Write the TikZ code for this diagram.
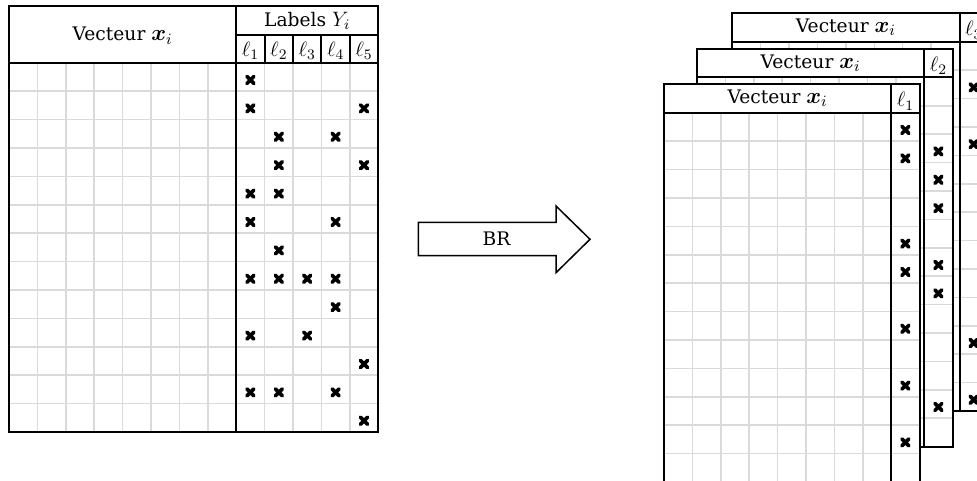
\RequirePackage{fix-cm}
\documentclass[tikz,border=0pt]{standalone}
\usepackage{amsmath}
\usepackage{fontspec}
\setmainfont{DejaVu Serif}
\newcommand\vecx{{\fontsize{13.5}{15}\selectfont$\boldsymbol{x}_i$}}
\newcommand\labset{{\fontsize{12.5}{14}\selectfont$Y_i$}}
\definecolor{gridgray}{RGB}{218,218,218}
\tikzset{
  gridline/.style={gridgray, line width=0.9pt},
  frame/.style={black, line width=1.2pt},
  headtext/.style={anchor=base, font=\fontsize{11.2}{13}\selectfont},
  elltext/.style={anchor=base, font=\fontsize{12.5}{14}\selectfont},
  crossmark/.pic={\draw[line width=2.2pt, line cap=round] (-3.5,-3.5) -- (3.5,3.5) (-3.5,3.5) -- (3.5,-3.5);},
}

\begin{document}
\begin{tikzpicture}[x=0.6pt, y=-0.6pt, line join=miter]
  \useasboundingbox (0,0) rectangle (977,481);
  % left table: 8 feature columns, 5 label columns, 13 rows
  \foreach \k in {1,...,12} {
    \draw[gridline] (9+\k*28.4,62.8) -- (9+\k*28.4,432);      % columns
    \draw[gridline] (9,62.8+\k*28.4) -- (378.2,62.8+\k*28.4);  % rows
  }
  \draw[frame] (9,6) rectangle (378.2,432);
  \draw[frame] (9,62.8) -- (378.2,62.8);
  \draw[frame] (236.2,6) -- (236.2,432);
  \draw[frame] (236.2,35) -- (378.2,35);
  \foreach \k in {1,...,4}
    \draw[frame] (236.2+\k*28.4,35) -- (236.2+\k*28.4,62.8);
  \node[headtext] (vec) at (122.6,41) {Vecteur \vecx};
  \node[headtext] (labels) at (307.2,26.7) {Labels \labset};
  \foreach \c in {1,...,5}
    \node[elltext] (l\c) at (236.2+\c*28.4-14.2,56.5) {$\ell_{\c}$};
  \foreach \c/\rows in {1/{1,2,5,6,8,10,12}, 2/{3,4,5,7,8,12}, 3/{8,10}, 4/{3,6,8,9,12}, 5/{2,4,11,13}} {
    \foreach \r in \rows
      \pic at (236.2+\c*28.4-14.2,62.8+\r*28.4-11.2) {crossmark};
  }

  % BR arrow
  \draw[line width=0.9pt] (418.3,222.3) -- (556,222.3) -- (556,206) -- (590,239.3)
    -- (556,272.7) -- (556,255.7) -- (418.3,255.7) -- cycle;
  \node[headtext] (br) at (496.5,245.5) {BR};

  % stacked tables, back to front
  \foreach \ox/\oy/\k/\rows in {732.3/13.4/3/{2,4,11,13}, 697/49/2/{3,4,5,7,8,12}, 664/84.4/1/{1,2,5,6,8,10,12}} {
    \fill[white] (\ox,\oy) rectangle (\ox+255.6,\oy+397.6);
    \foreach \j in {1,...,7}
      \draw[gridline] (\ox+\j*28.4,\oy+28.4) -- (\ox+\j*28.4,\oy+397.6);
    \foreach \j in {1,...,12}
      \draw[gridline] (\ox,\oy+28.4+\j*28.4) -- (\ox+255.6,\oy+28.4+\j*28.4);
    \draw[frame] (\ox,\oy) rectangle (\ox+255.6,\oy+397.6);
    \draw[frame] (\ox,\oy+28.4) -- (\ox+255.6,\oy+28.4);
    \draw[frame] (\ox+227.2,\oy) -- (\ox+227.2,\oy+397.6);
    \node[headtext] (vec\k) at (\ox+113.6,\oy+19.2) {Vecteur \vecx};
    \node[elltext] (lab\k) at (\ox+241.4,\oy+22.5) {$\ell_{\k}$};
    \foreach \r in \rows
      \pic at (\ox+241.4,\oy+28.4+\r*28.4-11.2) {crossmark};
  }
\end{tikzpicture}
\end{document}
